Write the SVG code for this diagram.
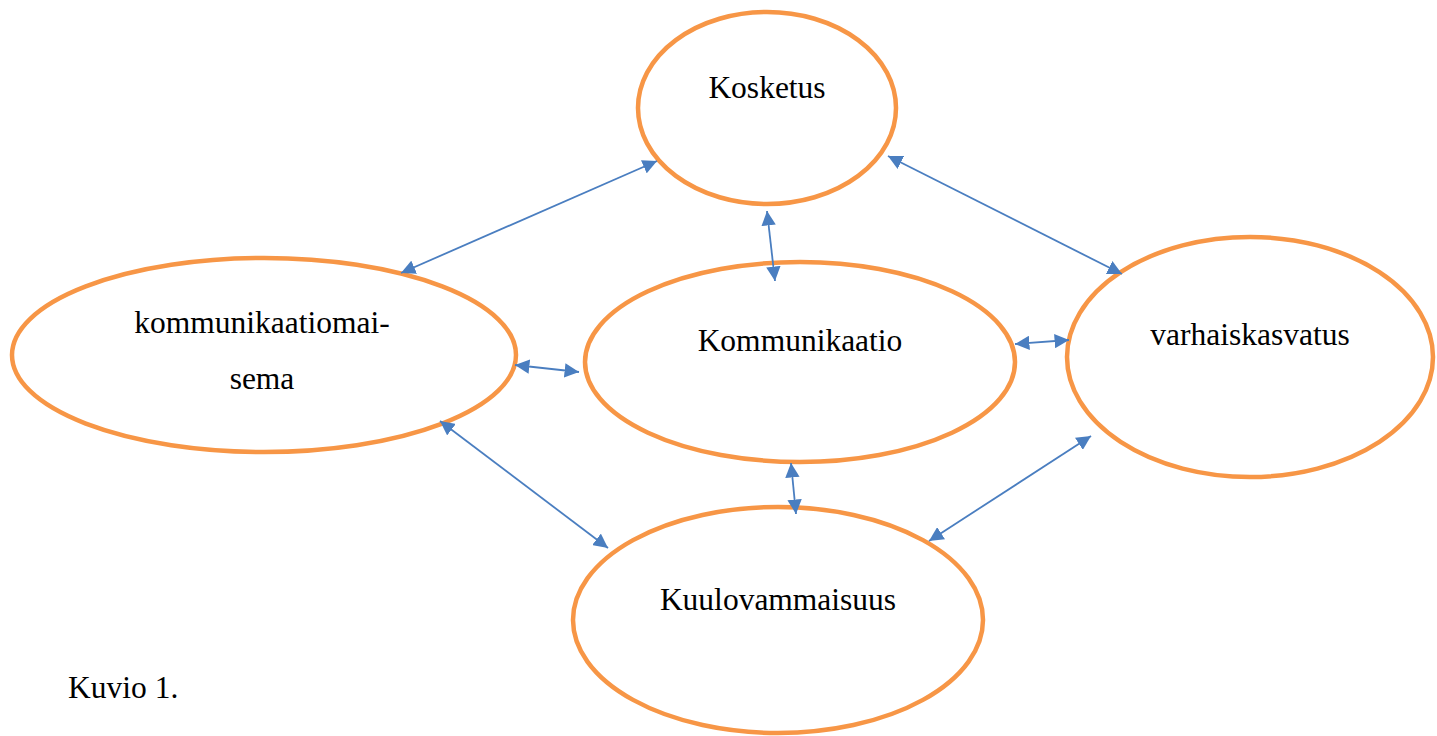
<svg xmlns="http://www.w3.org/2000/svg" width="1437" height="736" viewBox="0 0 1437 736">
<defs>
<marker id="ah" viewBox="0 0 10 10" refX="10" refY="5" markerWidth="8" markerHeight="8" markerUnits="strokeWidth" orient="auto-start-reverse">
<path d="M0,0 L10,5 L0,10 z" fill="#4A7EC0"/>
</marker>
<style>
.n ellipse{fill:#fff;stroke:#F79646;stroke-width:4.5}
.n text{font-family:"Liberation Serif","Times New Roman",serif;font-size:31.5px;fill:#000;text-anchor:middle}
.c line{stroke:#4A7EC0;stroke-width:1.8;marker-start:url(#ah);marker-end:url(#ah)}
.cap{font-family:"Liberation Serif","Times New Roman",serif;font-size:31.5px;fill:#000}
</style>
</defs>
<rect width="1437" height="736" fill="#fff"/>
<g class="n" id="kosketus"><ellipse cx="767" cy="108" rx="129" ry="96"/><text x="767" y="98">Kosketus</text></g>
<g class="n" id="kommunikaatiomaisema"><ellipse cx="264" cy="355" rx="252" ry="97"/><text x="262" y="333">kommunikaatiomai-</text><text x="262" y="389">sema</text></g>
<g class="n" id="kommunikaatio"><ellipse cx="800" cy="362" rx="215" ry="100"/><text x="800" y="351">Kommunikaatio</text></g>
<g class="n" id="varhaiskasvatus"><ellipse cx="1250" cy="357" rx="183" ry="120"/><text x="1250" y="345">varhaiskasvatus</text></g>
<g class="n" id="kuulovammaisuus"><ellipse cx="778" cy="620" rx="205" ry="113"/><text x="778" y="610">Kuulovammaisuus</text></g>
<g class="c" id="connectors">
<line x1="657" y1="161" x2="401" y2="273"/>
<line x1="888" y1="156" x2="1122" y2="274"/>
<line x1="767" y1="211" x2="775" y2="281"/>
<line x1="515" y1="365" x2="579" y2="372"/>
<line x1="1015" y1="344" x2="1069" y2="340"/>
<line x1="440" y1="421" x2="608" y2="548"/>
<line x1="791" y1="463" x2="796" y2="514"/>
<line x1="1091" y1="436" x2="929" y2="541"/>
</g>
<text class="cap" x="68" y="698">Kuvio 1.</text>
</svg>
